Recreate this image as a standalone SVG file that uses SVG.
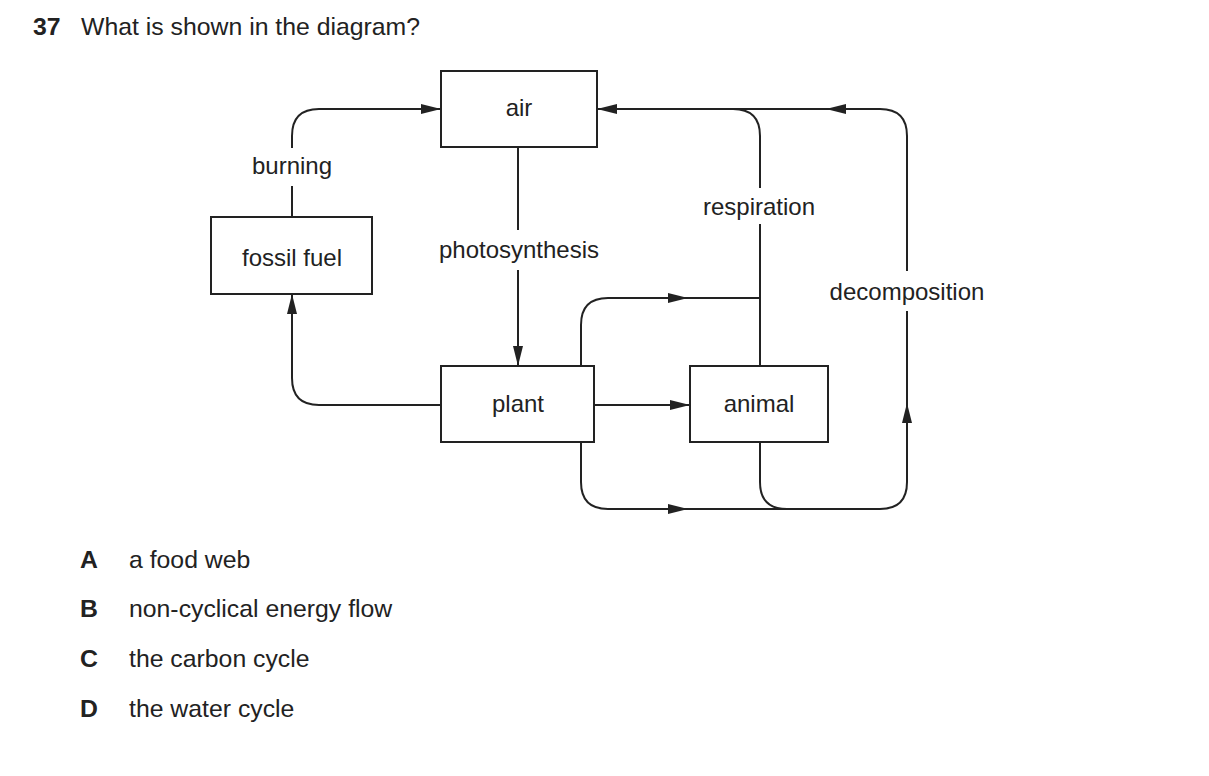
<svg xmlns="http://www.w3.org/2000/svg" width="1209" height="776" viewBox="0 0 1209 776">
<defs>
<marker id="ah" viewBox="0 0 20 10" refX="20" refY="5" markerWidth="20" markerHeight="10" markerUnits="userSpaceOnUse" orient="auto"><path d="M0,0 L20,5 L0,10 z" fill="#222"/></marker>
<style>
text{font-family:"Liberation Sans",Arial,sans-serif;font-size:24px;fill:#222}
.b{font-weight:bold}
.m{text-anchor:middle}
.o{font-size:24.8px}
rect{fill:#fff;stroke:#222;stroke-width:2}
.c path{fill:none;stroke:#222;stroke-width:2}
.lb{fill:#fff;stroke:none}
</style>
</defs>
<rect width="1209" height="776" style="stroke:none"/>
<text x="33" y="35" class="b o">37</text>
<text x="81" y="35" class="o">What is shown in the diagram?</text>
<g class="c">
<path d="M292,217 V136 Q292,109 319,109 H441" marker-end="url(#ah)"/>
<path d="M441,405 H319 Q292,405 292,378 V294" marker-end="url(#ah)"/>
<path d="M518,147 V366" marker-end="url(#ah)"/>
<path d="M594,405 H690" marker-end="url(#ah)"/>
<path d="M760,366 V136 Q760,109 733,109 H597" marker-end="url(#ah)"/>
<path d="M880,109 H733"/>
<path d="M880,109 H826" marker-end="url(#ah)"/>
<path d="M880,109 Q907,109 907,136 V482 Q907,509 880,509 H787 Q760,509 760,482 V442"/>
<path d="M907,482 V403" marker-end="url(#ah)"/>
<path d="M581,366 V325 Q581,298 608,298 H760"/>
<path d="M608,298 H688" marker-end="url(#ah)"/>
<path d="M581,442 V482 Q581,509 608,509 H787"/>
<path d="M608,509 H688" marker-end="url(#ah)"/>
</g>
<g id="labels">
<rect class="lb" x="245" y="148" width="94" height="38"/>
<text x="292" y="174" class="m">burning</text>
<rect class="lb" x="430" y="230" width="178" height="40"/>
<text x="519" y="258" class="m">photosynthesis</text>
<rect class="lb" x="696" y="188" width="128" height="36"/>
<text x="759" y="215" class="m">respiration</text>
<rect class="lb" x="822" y="271" width="170" height="40"/>
<text x="907" y="300" class="m">decomposition</text>
</g>
<g id="air"><rect x="441" y="71" width="156" height="76"/><text x="519" y="116" class="m">air</text></g>
<g id="fossil"><rect x="211" y="217" width="161" height="77"/><text x="292" y="266" class="m">fossil fuel</text></g>
<g id="plant"><rect x="441" y="366" width="153" height="76"/><text x="518" y="412" class="m">plant</text></g>
<g id="animal"><rect x="690" y="366" width="138" height="76"/><text x="759" y="412" class="m">animal</text></g>
<g id="options" class="o">
<text x="80" y="568" class="b o">A</text><text x="129" y="568" class="o">a food web</text>
<text x="80" y="617" class="b o">B</text><text x="129" y="617" class="o">non-cyclical energy flow</text>
<text x="80" y="667" class="b o">C</text><text x="129" y="667" class="o">the carbon cycle</text>
<text x="80" y="717" class="b o">D</text><text x="129" y="717" class="o">the water cycle</text>
</g>
</svg>
